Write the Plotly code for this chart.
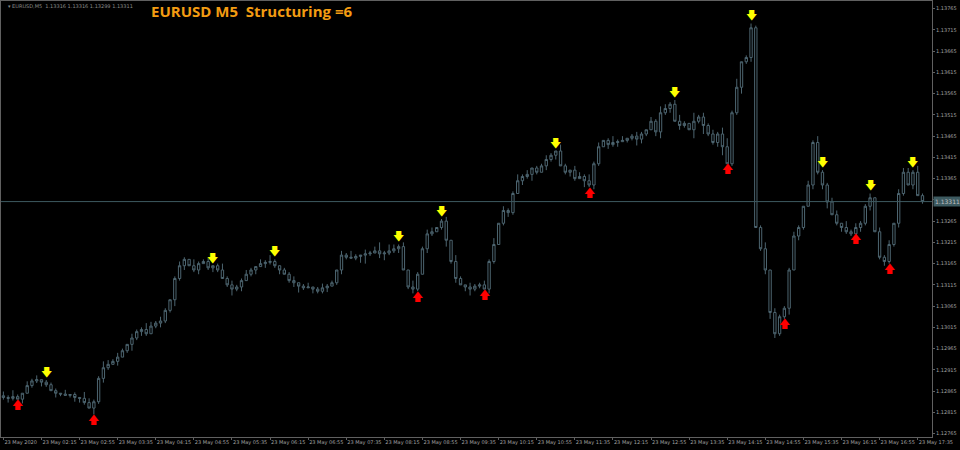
import plotly.graph_objects as go

# closes as 1.1xxxx -> stored as points above 1.10000
closes = [2850,2848,2852,2846,2860,2878,2889,2892,2886,2880,
          2866,2860,2858,2855,2857,2850,2848,2838,2825,2840,
          2895,2920,2928,2935,2945,2960,2975,2990,3005,3010,
          3000,3018,3025,3030,3055,3080,3130,3160,3175,3160,
          3150,3165,3170,3155,3160,3150,3130,3115,3105,3110,
          3125,3140,3150,3158,3165,3168,3170,3160,3150,3140,
          3125,3120,3112,3108,3110,3105,3100,3108,3112,3120,
          3150,3185,3180,3178,3182,3185,3188,3190,3195,3188,
          3190,3195,3200,3205,3150,3110,3105,3140,3200,3235,
          3240,3250,3265,3220,3170,3130,3115,3110,3105,3112,
          3115,3105,3170,3210,3260,3290,3285,3330,3360,3370,
          3375,3390,3380,3395,3410,3420,3430,3395,3380,3385,
          3365,3370,3360,3350,3400,3440,3455,3445,3450,3452,
          3455,3460,3465,3458,3470,3480,3500,3475,3520,3530,
          3540,3500,3490,3495,3480,3500,3510,3490,3470,3450,
          3470,3440,3400,3520,3580,3640,3650,3720,3250,3200,
          3150,3050,3000,3040,3060,3150,3230,3250,3300,3350,
          3450,3380,3350,3310,3280,3260,3250,3240,3235,3250,
          3260,3300,3320,3240,3180,3170,3210,3260,3330,3380,
          3350,3380,3325,3311]
# wick lengths in units of 5 points
up_wick = "2131021201110201032113212102113212101210311201312112102131011201201211021310212413212031122012031021121302113120112103102213120131201210213212310412121341401211302111210213112203121120212022"
dn_wick = "1210201121021012210312102013121012113120120121013120120211201231021120121013410231120121021013120231102101210213102120121031210212011321023120210414112401131201232113021021230121102120121"
down_idx = [9, 44, 57, 83, 92, 116, 141, 157, 172, 182, 191]
up_idx = [3, 19, 87, 101, 123, 152, 164, 179, 186]
y_ticks = [1.12765 + 0.0005 * k for k in range(21)]

n = len(closes)
c = [1.1 + v / 1e5 for v in closes]
o = [c[0] + 0.00004] + c[:-1]
h = [max(o[i], c[i]) + int(up_wick[i % len(up_wick)]) * 0.00005 for i in range(n)]
l = [min(o[i], c[i]) - int(dn_wick[i % len(dn_wick)]) * 0.00005 for i in range(n)]
x = list(range(n))

tickvals = list(range(0, n, 8))
ticktext = []
for t in tickvals:
    mins = 95 + 5 * t
    ticktext.append("23 May 2020" if t == 0 else "23 May %02d:%02d" % (mins // 60, mins % 60))

line_col = "#4d6570"
fig = go.Figure()
fig.add_trace(go.Candlestick(
    x=x, open=o, high=h, low=l, close=c,
    increasing=dict(line=dict(color=line_col, width=1), fillcolor="black"),
    decreasing=dict(line=dict(color=line_col, width=1), fillcolor="black"),
    whiskerwidth=0, showlegend=False, hoverinfo="skip"))
fig.add_trace(go.Scatter(
    x=down_idx, y=[h[i] + 0.00016 for i in down_idx], mode="text", text=["🡇"] * len(down_idx),
    textfont=dict(size=11, color="#ffff00"), showlegend=False))
fig.add_trace(go.Scatter(
    x=up_idx, y=[l[i] - 0.00016 for i in up_idx], mode="text", text=["🡅"] * len(up_idx),
    textfont=dict(size=11, color="#ff0000"), showlegend=False))

fig.add_hline(y=1.13311, line=dict(color="#3d5a60", width=1))
fig.add_annotation(x=1, xref="paper", y=1.13311, yref="y", text="1.13311", showarrow=False,
                   xanchor="left", xshift=1, font=dict(size=6, color="#c0c0c0"), bgcolor="#3d5a60")
fig.add_annotation(x=0.005, xref="paper", y=1, yref="paper", yanchor="top", xanchor="left",
                   text="▾ EURUSD,M5  1.13316 1.13316 1.13299 1.13311", showarrow=False,
                   font=dict(size=5, color="#8a8a8a"))
fig.add_annotation(x=148 / 930, xref="paper", y=1.005, yref="paper", yanchor="top", xanchor="left",
                   text="<b>EURUSD M5  Structuring =6</b>", showarrow=False,
                   font=dict(size=15, color="#f39c12", family="Open Sans"))

fig.update_layout(
    width=960, height=450, paper_bgcolor="black", plot_bgcolor="black",
    margin=dict(l=1, r=28, t=1, b=13),
    font=dict(family="DejaVu Sans", size=5, color="#a0a0a0"),
    xaxis=dict(range=[-0.5, n + 1], tickvals=tickvals, ticktext=ticktext, showgrid=False,
               rangeslider=dict(visible=False), showline=True, mirror=True, automargin=False,
               tickangle=0, ticklabelposition="outside right",
               linecolor="#606060", ticks="outside", ticklen=2, tickcolor="#606060",
               zeroline=False),
    yaxis=dict(side="right", range=[1.12757, 1.13783], tickvals=y_ticks, automargin=False,
               tickformat=".5f", showgrid=False, showline=True, mirror=True,
               linecolor="#606060", ticks="outside", ticklen=2, tickcolor="#606060", zeroline=False),
)
fig.write_html("out.html", config={"displayModeBar": False},
               post_script="document.body.style.margin='0';document.body.style.background='black';document.body.style.overflow='hidden';")
